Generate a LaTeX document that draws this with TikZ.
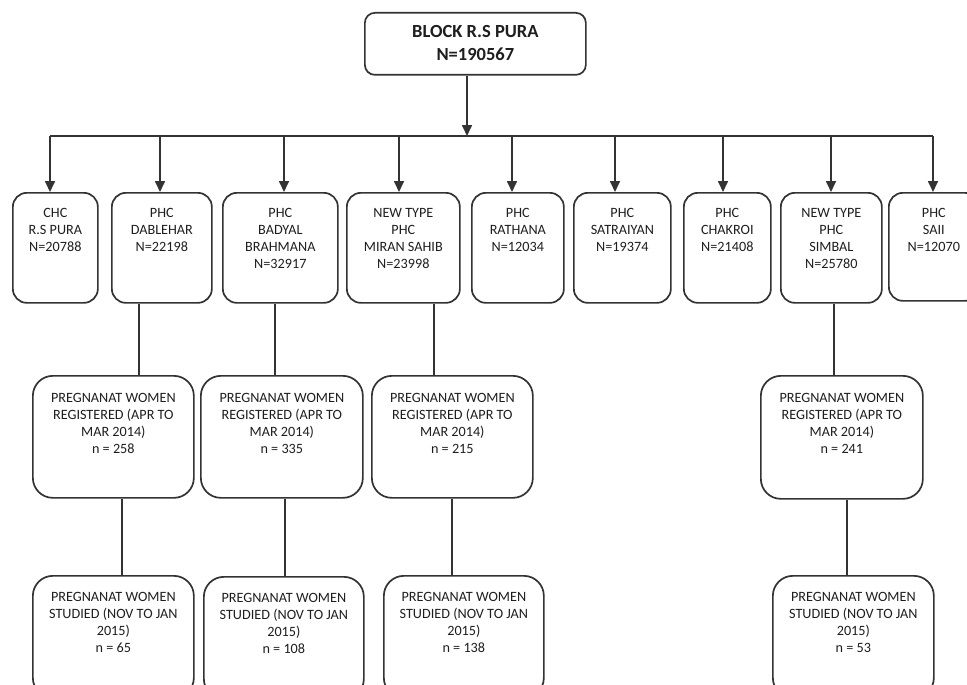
\documentclass[tikz,border=0pt]{standalone}
\usepackage{fontspec}
\setmainfont{Carlito}
\usetikzlibrary{arrows.meta,calc}
\definecolor{linecol}{HTML}{333333}
\definecolor{textcol}{HTML}{1E1E1E}
\newcommand{\boxtext}[4]{\parbox[c][#2pt][t]{#1pt}{\centering\rule{0pt}{#3pt}#4}}
\begin{document}
\begin{tikzpicture}[x=1pt,y=-1pt,
  box/.style={draw=linecol, line width=1.7pt, rounded corners=14pt, inner sep=0pt,
    anchor=north west, text=textcol, font=\fontsize{14.2}{16.8}\selectfont},
  bigbox/.style={box, rounded corners=20pt},
  topbox/.style={box, rounded corners=10pt, font=\fontsize{18.5}{23}\selectfont\bfseries},
  conn/.style={draw=linecol, line width=1.7pt},
  arr/.style={conn, -{Triangle[length=11pt,width=10pt]}}]
\useasboundingbox (0,0) rectangle (967,685);
\clip (0,0) rectangle (967,685);

% top
\node[topbox] (top) at (364,12) {\boxtext{221}{62}{25}{BLOCK R.S PURA\\N=190567}};

% PHC row
\node[box] (chc)  at (12,192)  {\boxtext{85}{110}{25}{CHC\\R.S PURA\\N=20788}};
\node[box] (dab)  at (111,192) {\boxtext{100}{110}{25}{PHC\\DABLEHAR\\N=22198}};
\node[box] (bad)  at (222,192) {\boxtext{115}{110}{25}{PHC\\BADYAL\\BRAHMANA\\N=32917}};
\node[box] (mir)  at (346,192) {\boxtext{113}{110}{25}{NEW TYPE\\PHC\\MIRAN SAHIB\\N=23998}};
\node[box] (rat)  at (471,192) {\boxtext{92}{110}{25}{PHC\\RATHANA\\N=12034}};
\node[box] (sat)  at (573,192) {\boxtext{97}{110}{25}{PHC\\SATRAIYAN\\N=19374}};
\node[box] (cha)  at (683,192) {\boxtext{87}{110}{25}{PHC\\CHAKROI\\N=21408}};
\node[box] (sim)  at (780,192) {\boxtext{101}{110}{25}{NEW TYPE\\PHC\\SIMBAL\\N=25780}};
\node[box] (saii) at (888,192) {\boxtext{90}{108}{25}{PHC\\SAII\\N=12070}};

% registered row
\node[bigbox] (reg1) at (32,375)  {\boxtext{161}{122}{27}{PREGNANAT WOMEN\\REGISTERED (APR TO\\MAR 2014)\\n = 258}};
\node[bigbox] (reg2) at (200,375) {\boxtext{162}{122}{27}{PREGNANAT WOMEN\\REGISTERED (APR TO\\MAR 2014)\\n = 335}};
\node[bigbox] (reg3) at (371,375) {\boxtext{161}{122}{27}{PREGNANAT WOMEN\\REGISTERED (APR TO\\MAR 2014)\\n = 215}};
\node[bigbox] (reg4) at (760,375) {\boxtext{162}{123}{27}{PREGNANAT WOMEN\\REGISTERED (APR TO\\MAR 2014)\\n = 241}};

% studied row
\node[bigbox] (stu1) at (32,575)  {\boxtext{161}{122}{26}{PREGNANAT WOMEN\\STUDIED (NOV TO JAN\\2015)\\n = 65}};
\node[bigbox] (stu2) at (203,576) {\boxtext{160}{122}{26}{PREGNANAT WOMEN\\STUDIED (NOV TO JAN\\2015)\\n = 108}};
\node[bigbox] (stu3) at (383,575) {\boxtext{160}{122}{26}{PREGNANAT WOMEN\\STUDIED (NOV TO JAN\\2015)\\n = 138}};
\node[bigbox] (stu4) at (772,575) {\boxtext{161}{122}{26}{PREGNANAT WOMEN\\STUDIED (NOV TO JAN\\2015)\\n = 53}};

% bus
\coordinate (bus) at (467,136);
\coordinate (b1) at (50,136);
\coordinate (b2) at (160,136);
\coordinate (b3) at (284,136);
\coordinate (b4) at (399,136);
\coordinate (b5) at (512,136);
\coordinate (b6) at (615,136);
\coordinate (b7) at (723,136);
\coordinate (b8) at (831,136);
\coordinate (b9) at (933,136);

\draw[arr] (top.south -| bus) -- (bus);
\draw[conn] (b1) -- (b9);
\draw[arr] (b1) -- (b1 |- chc.north);
\draw[arr] (b2) -- (b2 |- dab.north);
\draw[arr] (b3) -- (b3 |- bad.north);
\draw[arr] (b4) -- (b4 |- mir.north);
\draw[arr] (b5) -- (b5 |- rat.north);
\draw[arr] (b6) -- (b6 |- sat.north);
\draw[arr] (b7) -- (b7 |- cha.north);
\draw[arr] (b8) -- (b8 |- sim.north);
\draw[arr] (b9) -- (b9 |- saii.north);

% vertical connectors
\draw[conn] ([xshift=-23pt]dab.south) -- ([xshift=-23pt]dab.south |- reg1.north);
\draw[conn] ([xshift=-5.5pt]bad.south) -- ([xshift=-5.5pt]bad.south |- reg2.north);
\draw[conn] ([xshift=30.5pt]mir.south) -- ([xshift=30.5pt]mir.south |- reg3.north);
\draw[conn] ([xshift=2.5pt]sim.south) -- ([xshift=2.5pt]sim.south |- reg4.north);

\draw[conn] ([xshift=8.5pt]reg1.south) -- ([xshift=8.5pt]reg1.south |- stu1.north);
\draw[conn] ([xshift=3pt]reg2.south) -- ([xshift=3pt]reg2.south |- stu2.north);
\draw[conn] ([xshift=-0.5pt]reg3.south) -- ([xshift=-0.5pt]reg3.south |- stu3.north);
\draw[conn] ([xshift=5pt]reg4.south) -- ([xshift=5pt]reg4.south |- stu4.north);
\end{tikzpicture}
\end{document}
